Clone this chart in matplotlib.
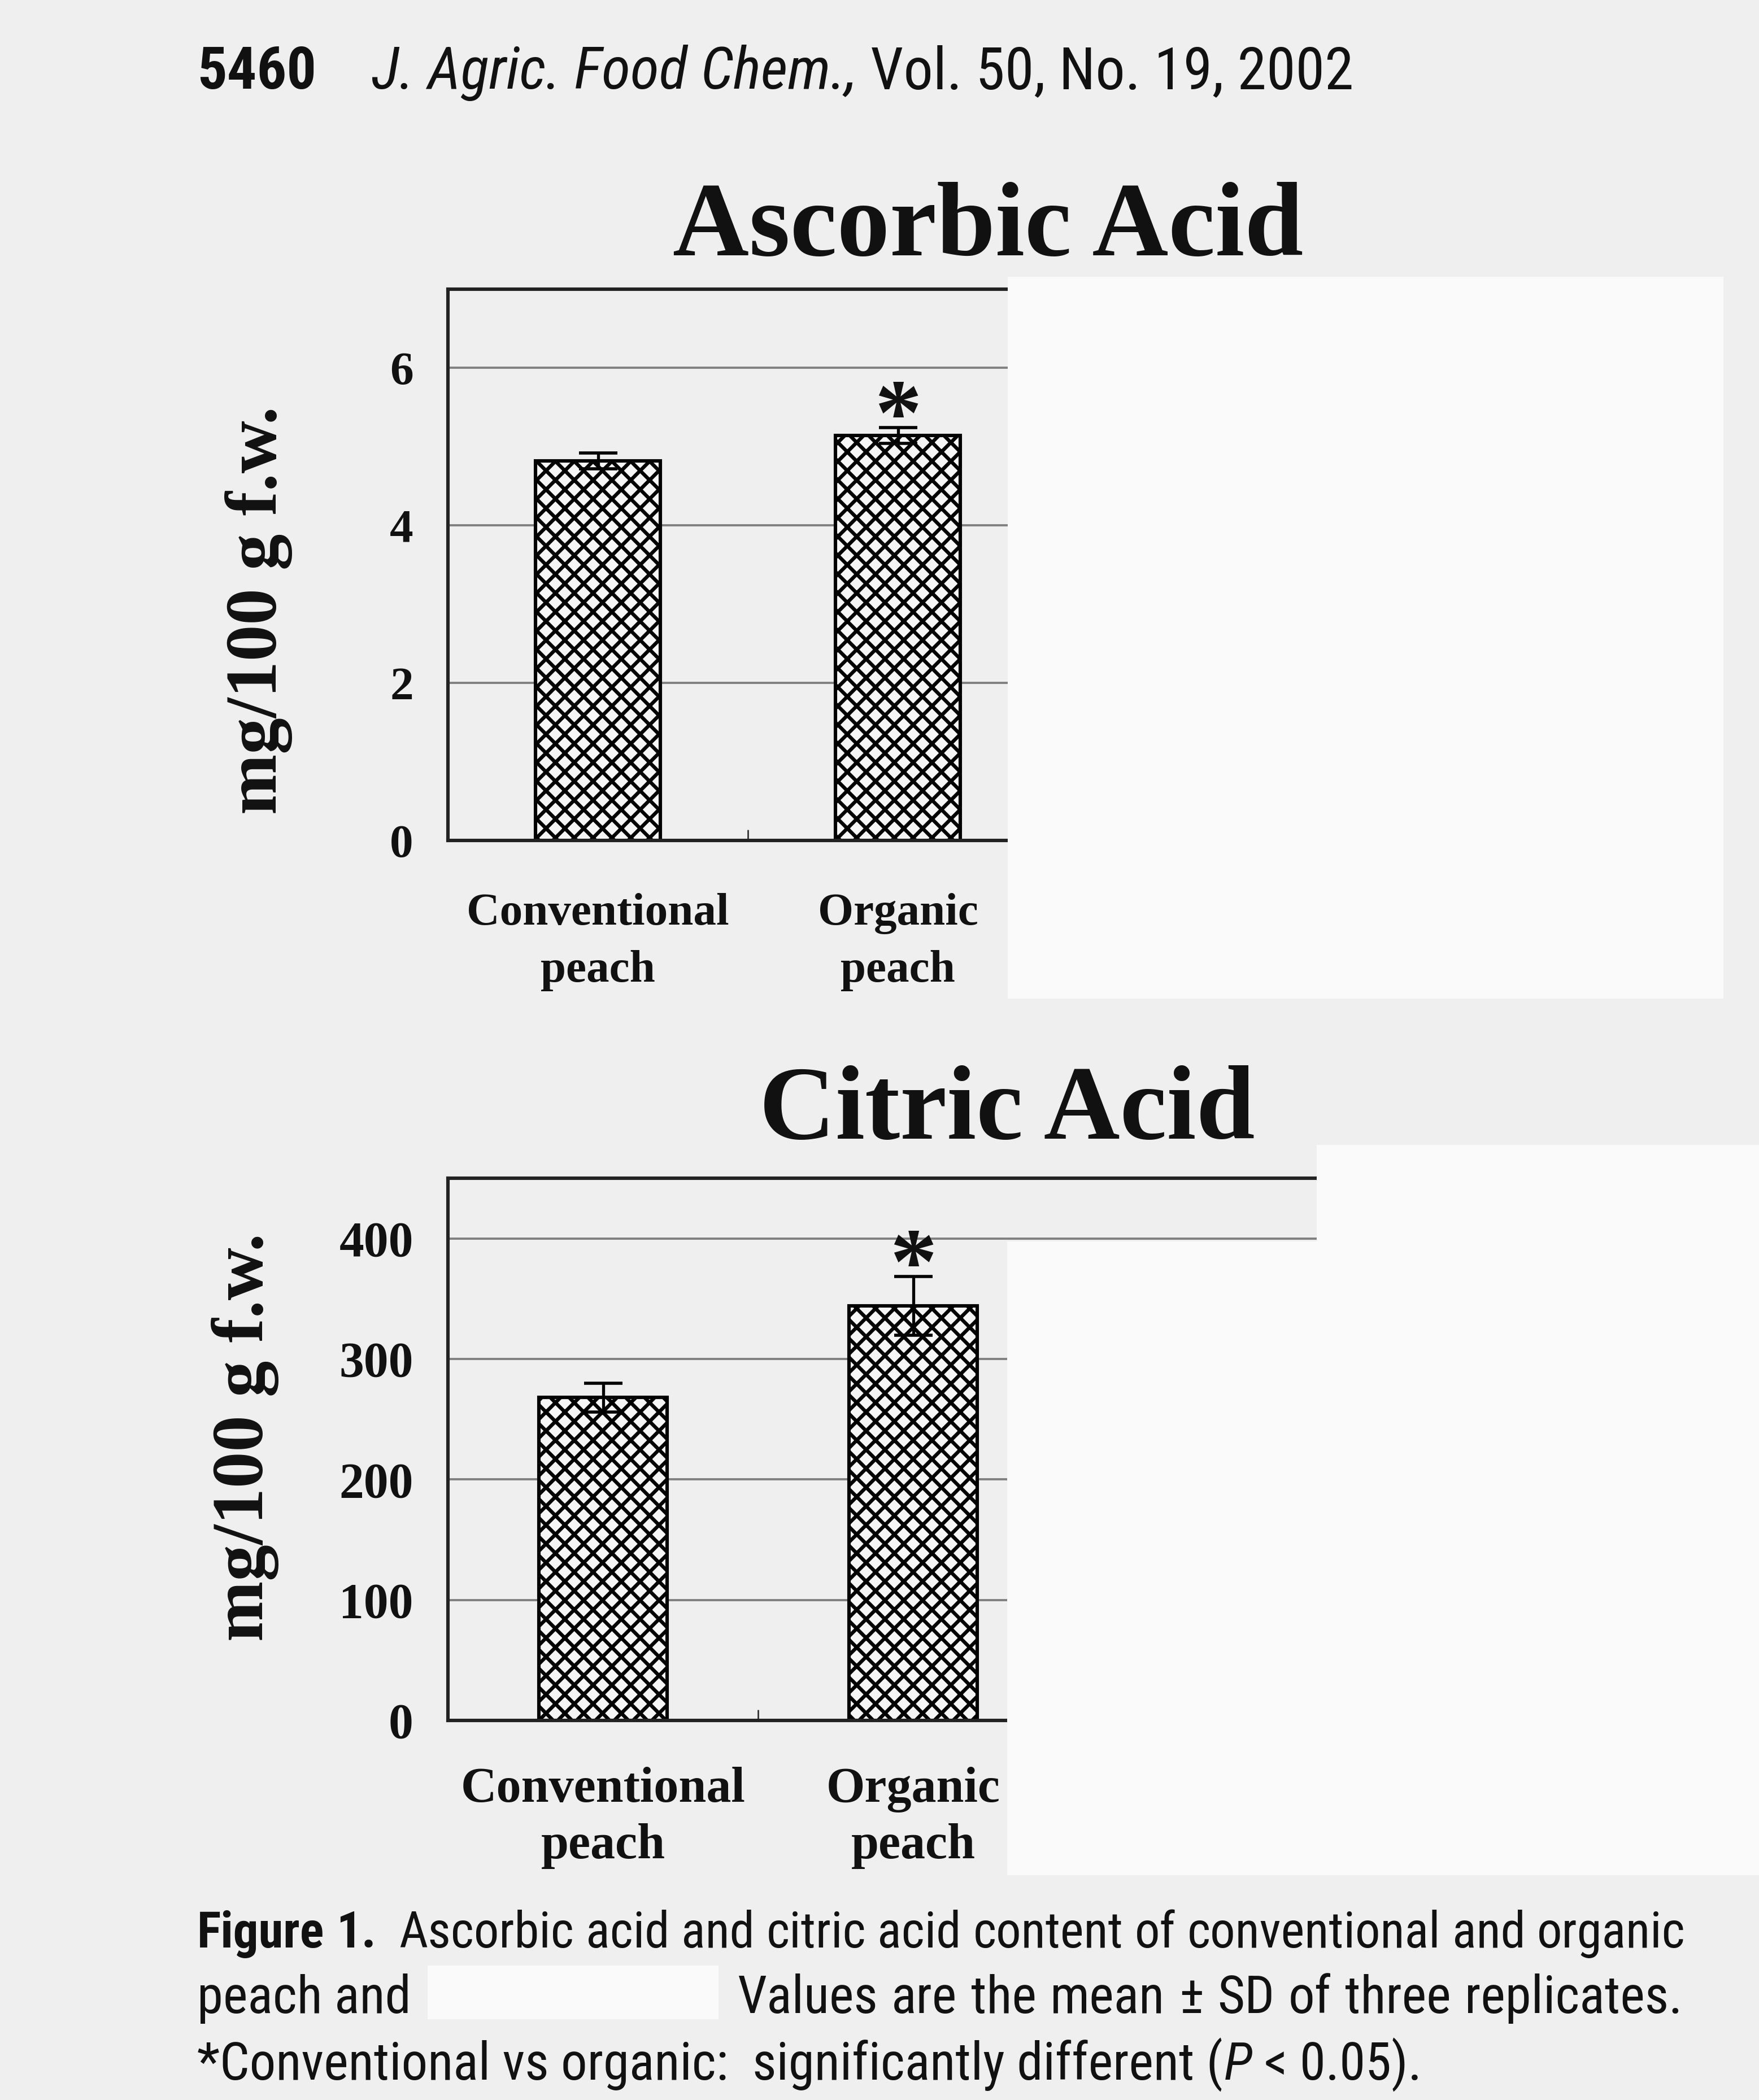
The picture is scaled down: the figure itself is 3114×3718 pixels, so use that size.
import matplotlib
matplotlib.use("Agg")
import matplotlib.pyplot as plt
from matplotlib import font_manager as fm
from matplotlib.patches import Rectangle
import numpy as np

# ---------------- data ----------------
categories = ["Conventional\npeach", "Organic\npeach"]
ascorbic_mean = [4.82, 5.14]
ascorbic_sd = [0.10, 0.10]
citric_mean = [268, 344]
citric_sd = [12, 24.5]
significant = [False, True]
ascorbic_ticks = [0, 2, 4, 6]
citric_ticks = [0, 100, 200, 300, 400]
ascorbic_ymax = 7
citric_ymax = 450
n_slots = 4  # the axes hold four groups; the right-hand two are masked in the page

header_page = "5460"
header_journal = "J. Agric. Food Chem.,"
header_issue = "Vol. 50, No. 19, 2002"
title_top = "Ascorbic Acid"
title_bottom = "Citric Acid"
ylabel = "mg/100 g f.w."
cap1_bold = ["Figure", "1."]
cap1_rest = "Ascorbic acid and citric acid content of conventional and organic"
cap2_a = "peach and"
cap2_b = "Values are the mean \u00b1 SD of three replicates."
cap3_a = "*Conventional vs organic:  significantly different ("
cap3_p = "P"
cap3_b = "< 0.05)."

# ---------------- style ----------------
W, H, DPI = 3114, 3718, 200
BG = "#efefef"
MASK = "#fafafa"
BAR_FACE = "#f6f6f6"
INK = "#111111"
SERIF = dict(family="Liberation Serif", weight="bold")

plt.rcParams["hatch.linewidth"] = 2.3
plt.rcParams["hatch.color"] = "black"


def pick_narrow():
    fl = fm.fontManager.ttflist
    names = {f.name for f in fl}
    for n in ["Liberation Sans Narrow", "Arial Narrow", "Nimbus Sans Narrow",
              "Roboto Condensed", "Open Sans Condensed"]:
        if n in names:
            return dict(family=n)
    for base in ["Roboto", "Open Sans", "DejaVu Sans", "Noto Sans"]:
        if any(f.name == base and str(f.stretch) in ("condensed", "semi-condensed",
                                                      "extra-condensed") for f in fl):
            return dict(family=base, stretch="condensed")
    return dict(family="Liberation Sans")


SANS = pick_narrow()

fig = plt.figure(figsize=(W / DPI, H / DPI), dpi=DPI, facecolor=BG)


def fx(px):
    return px / W


def fy(py):
    return 1 - py / H


def make_axes(left, right, top, bottom):
    return fig.add_axes([fx(left), fy(bottom), (right - left) / W, (bottom - top) / H])


def draw_chart(ax, means, sds, ticks, ymax, tick_fs, xlab_fs, xlab_ls, xlab_pad, ylab_xy):
    x = np.arange(len(means))
    ax.set_facecolor("none")
    ax.bar(x, means, width=0.415, yerr=sds, color=BAR_FACE, edgecolor="black",
           linewidth=2.2, hatch="xx", zorder=2,
           error_kw=dict(elinewidth=1.9, capthick=2.0, capsize=12.4, ecolor="black", zorder=3))
    ax.set_xlim(-0.5, n_slots - 0.5)
    ax.set_ylim(0, ymax)
    ax.set_yticks(ticks, [str(t) for t in ticks], fontsize=tick_fs, color=INK, **SERIF)
    ax.yaxis.grid(True, color="#808080", lw=1.4)
    ax.set_axisbelow(True)
    ax.set_xticks(x, categories, fontsize=xlab_fs, linespacing=xlab_ls, color=INK, **SERIF)
    ax.set_xticks(np.arange(n_slots - 1) + 0.5, minor=True)
    ax.tick_params(axis="x", which="major", length=0, pad=xlab_pad)
    ax.tick_params(axis="x", which="minor", direction="in", length=7, width=1.0, color="#333333")
    ax.tick_params(axis="y", which="both", length=0, pad=22)
    for s in ax.spines.values():
        s.set_linewidth(2.2)
        s.set_color("#222222")
    ax.set_ylabel(ylabel, fontsize=46.4, color=INK, va="center", **SERIF)
    ax.yaxis.set_label_coords(fx(ylab_xy[0]), fy(ylab_xy[1]), transform=fig.transFigure)
    for i, (m, s, sig) in enumerate(zip(means, sds, significant)):
        if sig:
            ax.annotate("*", xy=(i, m + s), xytext=(0, 4), textcoords="offset points",
                        ha="center", va="center", fontsize=60, color=INK, **SERIF)


ax1 = make_axes(793, 2917, 512, 1488)
draw_chart(ax1, ascorbic_mean, ascorbic_sd, ascorbic_ticks, ascorbic_ymax,
           tick_fs=30, xlab_fs=29.2, xlab_ls=1.5, xlab_pad=33.5, ylab_xy=(458, 1081))
ax2 = make_axes(793, 2989, 2086, 3046)
draw_chart(ax2, citric_mean, citric_sd, citric_ticks, citric_ymax,
           tick_fs=31.5, xlab_fs=31.7, xlab_ls=1.3, xlab_pad=29.5, ylab_xy=(434, 2545))

fig.text(fx(1749), fy(452), title_top, ha="center", va="baseline", fontsize=67.3, color=INK, **SERIF)
fig.text(fx(1783), fy(2016), title_bottom, ha="center", va="baseline", fontsize=67.3, color=INK, **SERIF)

# ---------------- masks (white redaction boxes of the page) ----------------
for x0, y0, x1, y1 in [(1784, 490, 3051, 1768), (2331, 2027, 3114, 2198),
                       (1783, 2198, 3114, 3320), (757, 3480, 1272, 3575)]:
    fig.add_artist(Rectangle((fx(x0), fy(y1)), (x1 - x0) / W, (y1 - y0) / H,
                             transform=fig.transFigure, facecolor=MASK,
                             edgecolor="none", zorder=20))

# ---------------- header & caption ----------------
renderer = fig.canvas.get_renderer()


def ink_width(s, size, **kw):
    t = fig.text(0, 0, s, fontsize=size, **kw)
    w = t.get_window_extent(renderer=renderer).width
    t.remove()
    return w


def space_w(size, **kw):
    return ink_width("n n", size, **kw) - ink_width("nn", size, **kw)


def put(x, yb, s, size, **kw):
    fig.text(fx(x), fy(yb), s, fontsize=size, ha="left", va="baseline", color=INK, **kw)


def justify(words, x0, x1, yb, size):
    widths = [ink_width(w, size, **kw) for w, kw, _ in words]
    weights = sum(g for _, _, g in words[1:])
    sp = space_w(size, **SANS)
    gap = (x1 - x0 - sum(widths)) / weights
    if gap < 0.7 * sp:
        natural = sum(widths) + sp * weights
        size = size * (x1 - x0) / natural
        widths = [ink_width(w, size, **kw) for w, kw, _ in words]
        gap = (x1 - x0 - sum(widths)) / weights
    x = x0
    for i, (w, kw, g) in enumerate(words):
        if i > 0:
            x += gap * g
        put(x, yb, w, size, **kw)
        x += widths[i]


ITAL = dict(SANS, style="italic")
BOLD = dict(SANS, weight="bold")

# header
s0 = 30.0
w_j = ink_width(header_journal, s0, **ITAL)
w_i = ink_width(header_issue, s0, **SANS)
sp0 = space_w(s0, **SANS)
hs = s0 * (2398 - 658) / (w_j + sp0 + w_i)
put(349, 157, header_page, hs, **BOLD)
put(658, 157, header_journal, hs, **ITAL)
put(658 + ink_width(header_journal, hs, **ITAL) + space_w(hs, **SANS), 157, header_issue, hs, **SANS)

# caption size from the last (unjustified) line
wa = ink_width(cap3_a, s0, **SANS)
wp = ink_width(cap3_p, s0, **ITAL)
wb = ink_width(cap3_b, s0, **SANS)
cs = s0 * (2519 - 349) / (wa + wp + wb + sp0 + 0.05 * s0)
x = 349
put(x, 3682, cap3_a, cs, **SANS)
x += ink_width(cap3_a, cs, **SANS) + 0.05 * cs
put(x, 3682, cap3_p, cs, **ITAL)
x += ink_width(cap3_p, cs, **ITAL) + space_w(cs, **SANS)
put(x, 3682, cap3_b, cs, **SANS)

line1 = [(cap1_bold[0], BOLD, 0), (cap1_bold[1], BOLD, 1)]
line1 += [(w, SANS, 2 if i == 0 else 1) for i, w in enumerate(cap1_rest.split())]
justify(line1, 349, 2984, 3448, cs)

put(349, 3564, cap2_a, cs, **SANS)
justify([(w, SANS, 0 if i == 0 else 1) for i, w in enumerate(cap2_b.split())], 1305, 2979, 3564, cs)

fig.savefig("out.png", dpi=DPI, facecolor=BG)
